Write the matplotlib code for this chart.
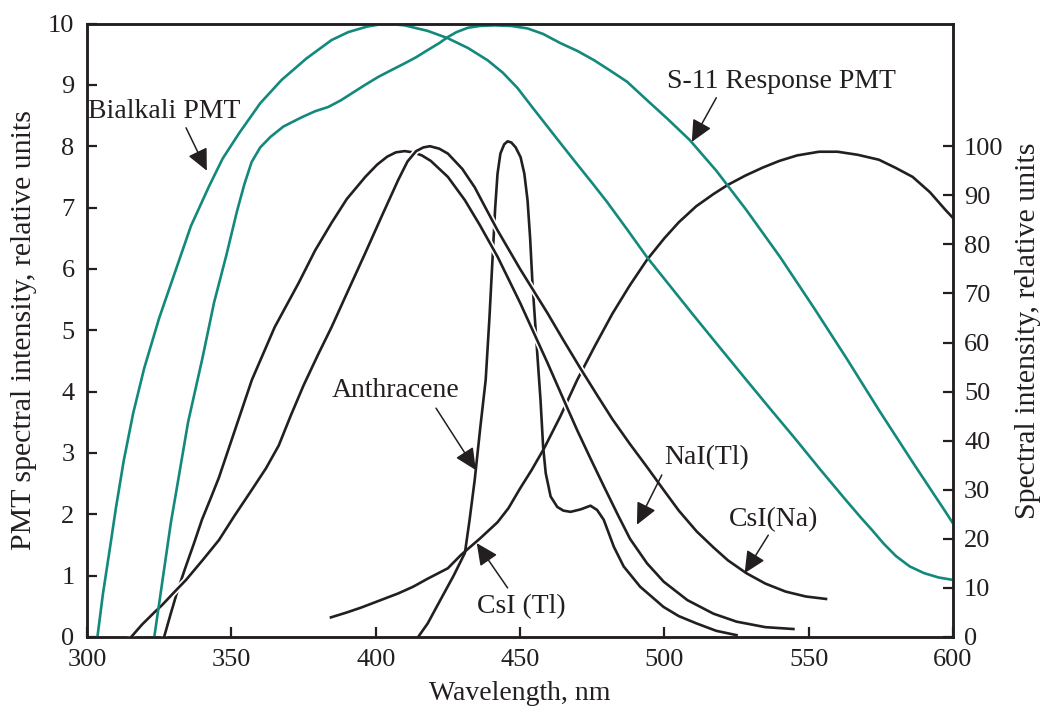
import matplotlib
matplotlib.use("Agg")
import matplotlib.pyplot as plt
import matplotlib.patheffects as pe

plt.rcParams['font.family'] = ['Liberation Serif', 'DejaVu Serif']

INK = '#231f20'
TEAL = '#13897c'

# PMT responses (left axis, relative units 0-10)
bialkali_x = [303.6, 305.5, 308.0, 310.0, 312.7, 316.0, 319.8, 325.0, 330.5, 336.0, 342.3,
              347.0, 352.8, 360.0, 367.4, 376.0, 384.7, 390.5, 397.0, 403.3, 410.0, 418.0,
              425.0, 432.0, 438.8, 444.0, 449.1, 454.0, 459.5, 464.0, 468.7, 475.0, 480.0,
              487.0, 494.0, 502.0, 510.0, 519.0, 528.4, 537.0, 545.0, 554.0, 562.9, 568.0,
              572.0, 576.0, 580.2, 585.0, 590.0, 595.0, 600.0]
bialkali_y = [0.0, 0.7, 1.47, 2.1, 2.87, 3.65, 4.38, 5.2, 5.95, 6.7, 7.35,
              7.8, 8.22, 8.7, 9.08, 9.43, 9.73, 9.86, 9.95, 10.0, 9.97, 9.88,
              9.76, 9.6, 9.40, 9.2, 8.95, 8.65, 8.32, 8.05, 7.77, 7.4, 7.1,
              6.65, 6.19, 5.72, 5.25, 4.73, 4.19, 3.7, 3.25, 2.73, 2.23, 1.95,
              1.74, 1.52, 1.32, 1.15, 1.04, 0.97, 0.93]

s11_x = [323.3, 325.0, 327.0, 329.0, 331.7, 335.0, 340.0, 344.0, 348.3, 352.0, 354.5,
         357.0, 360.0, 363.5, 368.0, 374.3, 379.0, 383.6, 388.0, 392.0, 396.0, 400.9,
         405.0, 410.0, 414.0, 418.1, 422.0, 425.0, 428.0, 431.9, 436.0, 441.2, 447.0,
         452.6, 458.0, 464.0, 470.0, 475.7, 481.0, 487.1, 494.0, 501.0, 508.8, 518.0,
         528.4, 540.0, 551.6, 563.0, 574.3, 586.0, 597.4, 600.0]
s11_y = [0.0, 0.55, 1.2, 1.85, 2.59, 3.5, 4.55, 5.45, 6.23, 6.95, 7.38,
         7.74, 7.98, 8.15, 8.32, 8.47, 8.57, 8.64, 8.75, 8.87, 8.99, 9.13,
         9.23, 9.35, 9.45, 9.57, 9.68, 9.78, 9.86, 9.93, 9.96, 9.97, 9.96,
         9.92, 9.83, 9.68, 9.55, 9.40, 9.24, 9.05, 8.75, 8.45, 8.10, 7.6,
         6.96, 6.2, 5.38, 4.55, 3.70, 2.85, 2.04, 1.85]

# scintillator emission spectra
nai_x = [326.7, 329.0, 331.2, 334.0, 337.0, 339.8, 343.0, 345.7, 350.0, 357.1, 365.0,
         373.3, 379.0, 384.7, 390.0, 396.4, 400.5, 404.0, 407.0, 410.0, 413.0, 416.0,
         419.1, 425.0, 430.9, 436.0, 442.2, 450.0, 459.5, 465.0, 469.8, 474.5, 479.1,
         484.0, 488.1, 494.0, 499.8, 508.0, 517.0, 525.0, 535.0, 544.7]
nai_y = [0.0, 0.38, 0.73, 1.12, 1.52, 1.91, 2.28, 2.6, 3.2, 4.19, 5.05,
         5.77, 6.3, 6.75, 7.14, 7.50, 7.7, 7.83, 7.9, 7.92, 7.9, 7.85,
         7.76, 7.5, 7.12, 6.72, 6.20, 5.45, 4.47, 3.88, 3.37, 2.9, 2.45,
         1.98, 1.6, 1.2, 0.9, 0.6, 0.38, 0.25, 0.16, 0.13]

csina_x = [315.3, 319.0, 323.3, 326.0, 330.0, 334.3, 340.0, 345.7, 351.0, 357.1, 362.0,
           366.4, 370.5, 375.0, 380.0, 384.7, 390.0, 396.4, 402.0, 407.8, 411.0, 414.0,
           416.5, 418.8, 422.0, 425.0, 430.0, 434.3, 438.0, 442.2, 450.0, 459.5, 465.0,
           470.9, 477.0, 482.0, 488.0, 494.0, 500.0, 505.0, 511.2, 517.0, 522.0, 528.4,
           535.0, 542.0, 549.0, 556.0]
csina_y = [0.0, 0.2, 0.4, 0.52, 0.72, 0.93, 1.25, 1.58, 1.97, 2.40, 2.75,
           3.12, 3.6, 4.1, 4.6, 5.05, 5.6, 6.26, 6.85, 7.45, 7.75, 7.92,
           7.98, 8.0, 7.96, 7.88, 7.63, 7.33, 7.0, 6.63, 6.0, 5.28, 4.84,
           4.38, 3.92, 3.55, 3.15, 2.77, 2.38, 2.06, 1.72, 1.46, 1.25, 1.04,
           0.87, 0.74, 0.66, 0.62]

anth_x = [414.7, 418.0, 422.6, 427.0, 430.9, 432.5, 434.3, 436.2, 438.1, 439.4, 440.5,
          441.4, 442.2, 443.2, 444.5, 445.7, 447.0, 448.5, 450.2, 451.5, 452.6, 453.5,
          454.3, 456.0, 457.1, 458.0, 458.9, 460.6, 462.9, 465.0, 467.5, 471.0, 474.4,
          476.7, 479.0, 482.5, 485.9, 491.6, 499.7, 505.0, 511.2, 518.0, 525.0]
anth_y = [0.0, 0.22, 0.62, 1.0, 1.37, 1.9, 2.56, 3.4, 4.19, 5.2, 6.19,
          7.0, 7.55, 7.88, 8.03, 8.08, 8.06, 7.98, 7.82, 7.55, 7.12, 6.5,
          5.77, 4.6, 3.86, 3.1, 2.67, 2.29, 2.12, 2.06, 2.04, 2.08, 2.14,
          2.07, 1.91, 1.47, 1.15, 0.82, 0.49, 0.34, 0.22, 0.1, 0.03]

csitl_x = [384.5, 390.0, 395.0, 400.0, 407.8, 413.0, 418.0, 425.0, 429.6, 436.0, 442.2,
           446.0, 450.0, 454.0, 458.4, 464.0, 469.8, 476.0, 482.0, 488.0, 494.0, 500.0,
           505.0, 511.0, 517.0, 522.0, 528.0, 534.0, 539.8, 546.0, 553.6, 560.0, 567.0,
           574.3, 580.0, 586.0, 592.0, 597.4, 600.0]
csitl_y = [0.32, 0.4, 0.48, 0.57, 0.71, 0.82, 0.95, 1.12, 1.34, 1.6, 1.87,
           2.1, 2.42, 2.72, 3.08, 3.6, 4.19, 4.75, 5.27, 5.73, 6.15, 6.5,
           6.76, 7.02, 7.22, 7.37, 7.52, 7.65, 7.76, 7.85, 7.91, 7.91, 7.86,
           7.78, 7.65, 7.50, 7.25, 6.96, 6.83]

labels = ['Bialkali PMT', 'S-11 Response PMT', 'Anthracene', 'NaI(Tl)', 'CsI(Na)', 'CsI (Tl)']
label_pos = [(326.7, 8.56), (540.5, 9.05), (407.0, 4.01), (514.7, 2.92), (537.8, 1.92), (450.5, 0.49)]
arrow_tail = [(334.3, 8.30), (518.0, 8.79), (420.9, 3.73), (499.1, 2.64), (536.0, 1.66), (445.7, 0.80)]
arrow_tip = [(341.5, 7.60), (509.5, 8.07), (434.7, 2.72), (490.5, 1.83), (527.8, 1.04), (435.0, 1.53)]

fig = plt.figure(figsize=(10.41, 7.17), dpi=100)
ax = fig.add_axes([0.0836, 0.1116, 0.8319, 0.8556])
ax2 = ax.twinx()

lw = 1.9
halo = [pe.withStroke(linewidth=lw + 2.5, foreground='white')]
ax.plot(anth_x, anth_y, color=INK, lw=lw, zorder=2)
ax.plot(csitl_x, csitl_y, color=INK, lw=lw, zorder=2)
ax.plot(nai_x, nai_y, color=INK, lw=lw, zorder=3, path_effects=halo)
ax.plot(csina_x, csina_y, color=INK, lw=lw, zorder=4, path_effects=halo)
ax.plot(bialkali_x, bialkali_y, color=TEAL, lw=lw, zorder=5)
ax.plot(s11_x, s11_y, color=TEAL, lw=lw, zorder=5)

for txt, pos, tail, tip in zip(labels, label_pos, arrow_tail, arrow_tip):
    ax.text(pos[0], pos[1], txt, ha='center', va='center', fontsize=20, color=INK, zorder=7)
    ax.annotate('', xy=tip, xytext=tail,
                arrowprops=dict(arrowstyle='-|>,head_length=0.95,head_width=0.45', color=INK,
                                lw=1.1, shrinkA=0, shrinkB=0, mutation_scale=14), zorder=7)

ax.set_xlim(300, 600)
ax.set_ylim(0, 10)
ax.set_xticks(range(300, 601, 50))
ax.set_yticks(range(0, 11))
ax2.set_ylim(0, 125)
ax2.set_yticks(range(0, 101, 10))

for a in (ax, ax2):
    for s in a.spines.values():
        s.set_linewidth(1.8)
        s.set_color(INK)
ax.tick_params(axis='both', direction='in', length=7, width=1.6, labelsize=19,
               colors=INK, pad=9, top=False, right=False)
ax2.tick_params(axis='y', direction='in', length=7, width=1.6, labelsize=19,
                colors=INK, pad=8)

ax.set_xlabel('Wavelength, nm', fontsize=20, color=INK, labelpad=7)
ax.set_ylabel('PMT spectral intensity, relative units', fontsize=21.5, color=INK, labelpad=8)
ax2.set_ylabel('Spectral intensity, relative units', fontsize=21.5, color=INK, labelpad=8)

fig.savefig('out.png', dpi=100)
